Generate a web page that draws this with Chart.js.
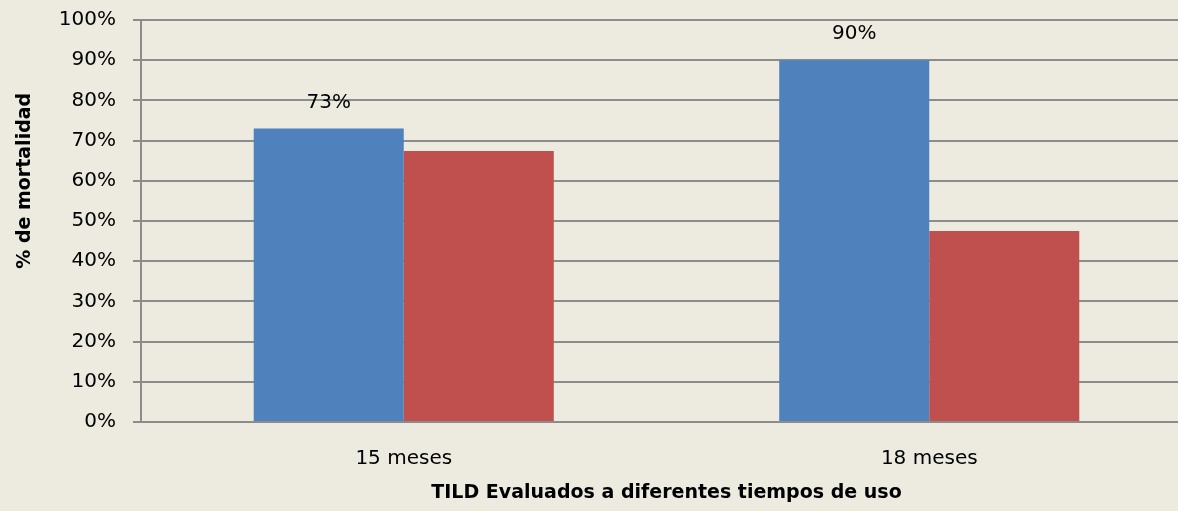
<!DOCTYPE html>
<html lang="es">
<head>
<meta charset="utf-8">
<title>% de mortalidad</title>
<script src="https://cdn.jsdelivr.net/npm/chart.js@4/dist/chart.umd.min.js"></script>
<style>
    html, body {
        margin: 0;
        padding: 0;
        background: #EDEAE0;
        overflow: hidden;
    }
    .chart-box {
        position: relative;
        width: 1200px;
        height: 511px;
    }
</style>
</head>
<body>
<div class="chart-box">
    <canvas id="mortalityChart"></canvas>
</div>
<script>
// ===== Données =====
const categories = ["15 meses", "18 meses"];
const seriesBlue = [73, 90];
const seriesRed = [67.4, 47.5];
const tickValues = [0, 10, 20, 30, 40, 50, 60, 70, 80, 90, 100];
const labelledSeries = 0; // seule la série bleue porte des étiquettes
const yTitle = "% de mortalidad";

const FONT = "'DejaVu Sans', sans-serif";

// Étiquettes de valeur au-dessus des barres bleues
const valueLabels = {
    id: "valueLabels",
    afterDatasetsDraw(chart) {
        const ctx = chart.ctx;
        const meta = chart.getDatasetMeta(labelledSeries);
        const values = chart.data.datasets[labelledSeries].data;
        ctx.save();
        ctx.font = "20px " + FONT;
        ctx.fillStyle = "#000";
        ctx.textAlign = "center";
        ctx.textBaseline = "middle";
        meta.data.forEach((bar, i) => {
            ctx.fillText(Math.round(values[i]) + "%", bar.x, bar.y - 26);
        });
        ctx.restore();
    }
};

// Titre vertical de l'axe Y, un peu au-dessus du centre du graphique
const yAxisTitle = {
    id: "yAxisTitle",
    afterDraw(chart) {
        const ctx = chart.ctx;
        const area = chart.chartArea;
        ctx.save();
        ctx.translate(25, area.top + (area.bottom - area.top) * 0.4);
        ctx.rotate(-Math.PI / 2);
        ctx.font = "bold 19px " + FONT;
        ctx.fillStyle = "#000";
        ctx.textAlign = "center";
        ctx.textBaseline = "middle";
        ctx.fillText(yTitle, 0, 0);
        ctx.restore();
    }
};

const ctx = document.getElementById("mortalityChart").getContext("2d");
new Chart(ctx, {
    type: "bar",
    data: {
        labels: categories,
        datasets: [
            {
                data: seriesBlue,
                backgroundColor: "#4F81BD",
                borderWidth: 0
            },
            {
                data: seriesRed,
                backgroundColor: "#C0504D",
                borderWidth: 0
            }
        ]
    },
    options: {
        responsive: true,
        maintainAspectRatio: false,
        animation: false,
        layout: {
            padding: { left: 0, right: 8, top: 20, bottom: 0 }
        },
        datasets: {
            bar: {
                categoryPercentage: 0.571,
                barPercentage: 1
            }
        },
        plugins: {
            legend: { display: false },
            tooltip: { enabled: false }
        },
        scales: {
            x: {
                grid: { display: false, drawTicks: false },
                border: { display: true, color: "#8C8C8C", width: 2 },
                ticks: {
                    color: "#000",
                    font: { family: FONT, size: 20 },
                    padding: 25
                },
                title: {
                    display: true,
                    text: "TILD Evaluados a diferentes tiempos de uso",
                    color: "#000",
                    font: { family: FONT, size: 19, weight: "bold" },
                    padding: { top: 0, bottom: 7 }
                },
                afterFit(scale) {
                    scale.height = 89;
                }
            },
            y: {
                min: 0,
                max: 100,
                afterBuildTicks(scale) {
                    scale.ticks = tickValues.map(v => ({ value: v }));
                },
                grid: {
                    color: "#8C8C8C",
                    lineWidth: 2,
                    tickLength: 8,
                    drawTicks: true
                },
                border: { display: true, color: "#8C8C8C", width: 2 },
                ticks: {
                    color: "#000",
                    font: { family: FONT, size: 20 },
                    padding: 17,
                    callback: v => v + "%"
                },
                afterFit(scale) {
                    scale.width = 141;
                    scale.paddingTop = 0;
                    scale.paddingBottom = 0;
                }
            }
        }
    },
    plugins: [valueLabels, yAxisTitle]
});
</script>
</body>
</html>
